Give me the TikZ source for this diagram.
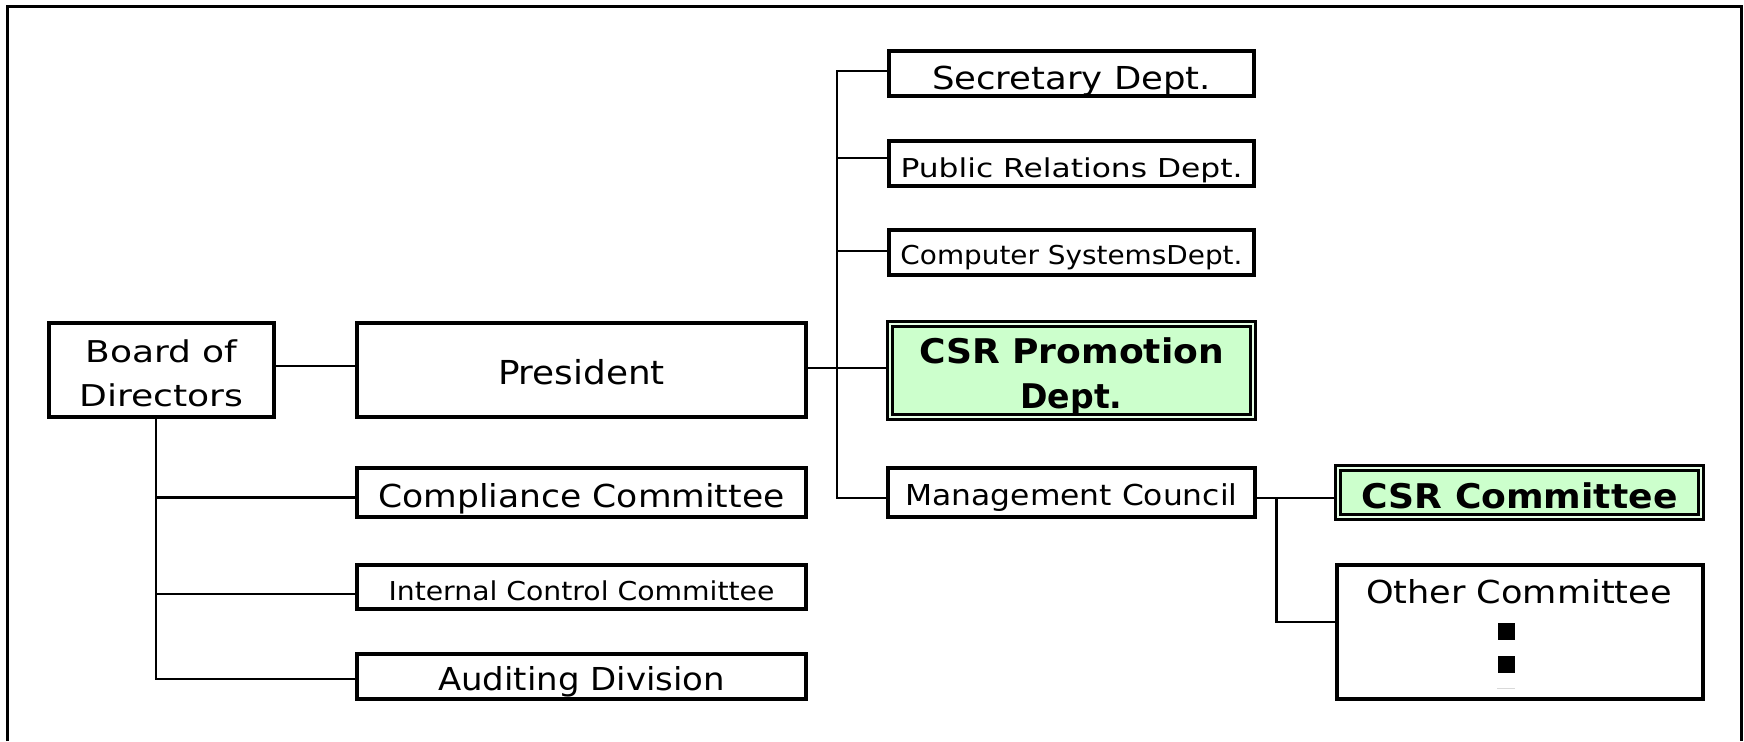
\documentclass[tikz,border=0pt]{standalone}
\usepackage{fontspec}
\setmainfont{DejaVu Sans}
\usepackage{graphicx}
\newlength\pxu
\setlength\pxu{0.5pt}
% one line of text: stretched to a given width (px units) and lowered by a given amount (px units)
\newcommand\wfit[3]{\raisebox{-#3\pxu}[\height][\depth]{\resizebox{#1\pxu}{\height}{#2}}}
\definecolor{csrgreen}{HTML}{CCFFCC}
\definecolor{csrgap}{HTML}{E6FFE6}

\begin{document}
\begin{tikzpicture}[x=0.5pt, y=-0.5pt,
  box/.style={draw, line width=1.6pt, fill=white, inner sep=0pt, align=center},
  hlbox/.style={draw=black, double=csrgap, double distance=1.2pt, line width=1.35pt,
                fill=csrgreen, inner sep=0pt, align=center},
  conn/.style={line width=1.1pt},
  frame/.style={line width=1.5pt}]
\useasboundingbox (0,0) rectangle (1744,741);
\fill[white] (0,0) rectangle (1744,741);
\draw[frame] (7,741) -- (7,6) -- (1741.5,6) -- (1741.5,741);

% left column
\node[box, minimum width=225\pxu, minimum height=94\pxu, font=\fontsize{15}{22}\selectfont]
  (board) at (161.5,370) {\wfit{152}{Board of}{3.5}\\\wfit{164}{Directors}{3.5}};
\node[box, minimum width=449\pxu, minimum height=94\pxu, font=\fontsize{16.5}{20}\selectfont]
  (pres) at (581.5,370) {\wfit{167}{President}{2.5}};
\node[box, minimum width=449\pxu, minimum height=49\pxu, font=\fontsize{15.8}{20}\selectfont]
  (comp) at (581.5,492.5) {\wfit{406}{Compliance Committee}{6.5}};
\node[box, minimum width=449\pxu, minimum height=44\pxu, font=\fontsize{13}{16}\selectfont]
  (ictl) at (581.5,587) {\wfit{386}{Internal Control Committee}{3.5}};
\node[box, minimum width=449\pxu, minimum height=45\pxu, font=\fontsize{15.8}{20}\selectfont]
  (aud) at (581.5,676.5) {\wfit{287}{Auditing Division}{5.5}};

% departments under the president
\node[box, minimum width=365\pxu, minimum height=45\pxu, font=\fontsize{15.8}{20}\selectfont]
  (sec) at (1071.5,73.5) {\wfit{279}{Secretary Dept.}{8}};
\node[box, minimum width=365\pxu, minimum height=45\pxu, font=\fontsize{13}{16}\selectfont]
  (pr) at (1071.5,163.5) {\wfit{342}{Public Relations Dept.}{6.5}};
\node[box, minimum width=365\pxu, minimum height=45\pxu, font=\fontsize{13}{16}\selectfont]
  (cs) at (1071.5,252.5) {\wfit{342}{Computer SystemsDept.}{5.5}};
\node[hlbox, minimum width=363.4\pxu, minimum height=93.4\pxu,
      font=\fontsize{17}{22.5}\selectfont\bfseries]
  (csrp) at (1071.5,370.5) {\wfit{305}{CSR Promotion}{6}\\\wfit{102}{Dept.}{6}};
\node[box, minimum width=367\pxu, minimum height=49\pxu, font=\fontsize{14.4}{18}\selectfont]
  (mc) at (1071.5,492.5) {\wfit{332}{Management Council}{5.5}};

% committees under the management council
\node[hlbox, minimum width=363.4\pxu, minimum height=49.4\pxu,
      font=\fontsize{17}{20}\selectfont\bfseries]
  (csrc) at (1519.5,492.5) {\wfit{316}{CSR Committee}{3.5}};
\node[box, minimum width=366\pxu, minimum height=134\pxu] (other) at (1520,632) {};
\node[font=\fontsize{15.8}{20}\selectfont, anchor=base, inner sep=0pt]
  (othertxt) at (1519,603) {\resizebox{306\pxu}{\height}{Other Committee}};
\node[fill=black, minimum size=17\pxu, inner sep=0pt] (dotA) at (1506,631) {};
\node[fill=black, minimum size=17\pxu, inner sep=0pt] (dotB) at (1506,664) {};
\draw[black!15, line width=0.5pt] ([yshift=-7.75pt]dotB.south west) -- ([yshift=-7.75pt]dotB.south east);

% board connectors
\draw[conn] ([yshift=2pt]board.east) -- ([yshift=2pt]pres.west);
\coordinate (bx) at (156,0);
\coordinate (cc) at ([yshift=-2.5pt]comp.west);
\coordinate (ic) at ([yshift=-3.5pt]ictl.west);
\coordinate (ac) at ([yshift=-1.25pt]aud.west);
\draw[conn] (bx |- board.south) -- (bx |- ac) -- (ac);
\draw[conn] (bx |- cc) -- (cc);
\draw[conn] (bx |- ic) -- (ic);

% president spine
\coordinate (sx) at (837,0);
\coordinate (secc) at ([yshift=1.25pt]sec.west);
\coordinate (prc) at ([yshift=2.75pt]pr.west);
\coordinate (csc) at ([yshift=0.75pt]cs.west);
\coordinate (cpc) at ([yshift=1.25pt]csrp.west);
\coordinate (mcc) at ([yshift=-2.75pt]mc.west);
\draw[conn] (secc) -- (sx |- secc) -- (sx |- mcc) -- (mcc);
\draw[conn] (sx |- prc) -- (prc);
\draw[conn] (sx |- csc) -- (csc);
\draw[conn] (pres.east |- cpc) -- (cpc);

% management council branch
\coordinate (mcr) at ([yshift=-2.75pt]mc.east);
\coordinate (bx2) at (1276.5,0);
\coordinate (oc) at ([yshift=5pt]other.west);
\draw[conn] (mcr) -- (csrc.west |- mcr);
\draw[conn] (bx2 |- mcr) -- (bx2 |- oc) -- (oc);
\end{tikzpicture}
\end{document}
